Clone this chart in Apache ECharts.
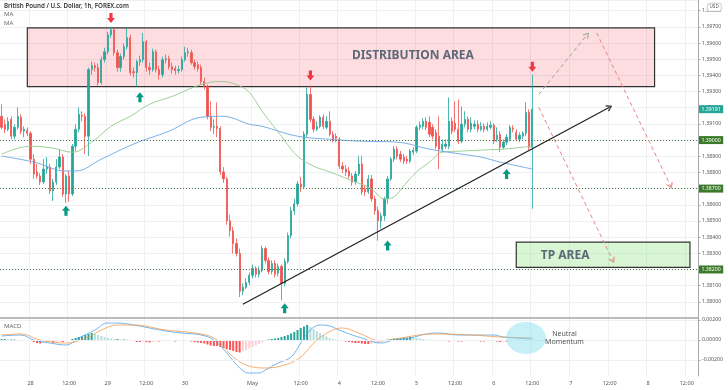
<!DOCTYPE html>
<html><head><meta charset="utf-8">
<script src="https://cdn.jsdelivr.net/npm/echarts@6/dist/echarts.min.js"></script>
<style>html,body{margin:0;padding:0;background:#fff}#c{width:728px;height:390px}</style>
</head><body><div id="c"></div>
<script>
// OHLC: [open, close, low, high]
const candles = [
[1.39147,1.39079,1.39067,1.39221],[1.39098,1.39067,1.39042,1.39128],[1.39067,1.39116,1.39055,1.39141],[1.39128,1.39024,1.39005,1.39147],[1.39024,1.39079,1.39005,1.39098],
[1.39079,1.39147,1.39067,1.39202],[1.39141,1.39055,1.39036,1.39159],[1.39055,1.39067,1.39018,1.39085],[1.39061,1.39042,1.39024,1.39079],[1.39042,1.38882,1.38852,1.39055],
[1.38882,1.38790,1.38760,1.38913],[1.38803,1.38778,1.38760,1.38852],[1.38778,1.38741,1.38723,1.38796],[1.38741,1.38821,1.38729,1.38882],[1.38821,1.38833,1.38790,1.38895],
[1.38833,1.38686,1.38667,1.38852],[1.38686,1.38741,1.38624,1.38760],[1.38741,1.38833,1.38723,1.38882],[1.38833,1.38895,1.38821,1.38944],[1.38895,1.38667,1.38649,1.38913],
[1.38667,1.38778,1.38612,1.38790],[1.38778,1.38667,1.38618,1.38809],[1.38667,1.38962,1.38655,1.38975],[1.38962,1.39067,1.38932,1.39098],[1.39067,1.39159,1.39048,1.39202],
[1.39153,1.39147,1.39116,1.39178],[1.39147,1.39024,1.38913,1.39165],[1.39024,1.39436,1.38901,1.39448],[1.39436,1.39460,1.39405,1.39485],[1.39460,1.39448,1.39423,1.39479],
[1.39448,1.39356,1.39337,1.39473],[1.39356,1.39497,1.39343,1.39516],[1.39497,1.39546,1.39479,1.39571],[1.39546,1.39651,1.39528,1.39669],[1.39651,1.39682,1.39632,1.39700],
[1.39682,1.39540,1.39522,1.39694],[1.39540,1.39448,1.39423,1.39559],[1.39448,1.39516,1.39423,1.39534],[1.39516,1.39577,1.39497,1.39596],[1.39577,1.39632,1.39559,1.39694],
[1.39632,1.39417,1.39399,1.39651],[1.39423,1.39417,1.39386,1.39448],[1.39417,1.39485,1.39331,1.39497],[1.39485,1.39497,1.39460,1.39522],[1.39497,1.39608,1.39479,1.39663],
[1.39608,1.39448,1.39423,1.39620],[1.39448,1.39436,1.39405,1.39479],[1.39436,1.39546,1.39423,1.39565],[1.39546,1.39436,1.39417,1.39559],[1.39436,1.39405,1.39374,1.39460],
[1.39405,1.39497,1.39386,1.39516],[1.39497,1.39503,1.39473,1.39528],[1.39503,1.39454,1.39436,1.39522],[1.39454,1.39436,1.39411,1.39479],[1.39442,1.39430,1.39405,1.39460],
[1.39430,1.39436,1.39411,1.39460],[1.39436,1.39497,1.39423,1.39516],[1.39497,1.39540,1.39485,1.39577],[1.39540,1.39546,1.39516,1.39571],[1.39540,1.39479,1.39466,1.39559],
[1.39479,1.39454,1.39436,1.39497],[1.39466,1.39442,1.39423,1.39485],[1.39448,1.39362,1.39343,1.39466],[1.39362,1.39331,1.39313,1.39386],[1.39331,1.39147,1.39128,1.39343],
[1.39147,1.39079,1.39055,1.39239],[1.39079,1.39085,1.39036,1.39128],[1.39085,1.39073,1.39018,1.39233],[1.39073,1.38803,1.38784,1.39085],[1.38803,1.38760,1.38735,1.38833],
[1.38760,1.38501,1.38477,1.38772],[1.38501,1.38440,1.38403,1.38538],[1.38440,1.38360,1.38299,1.38464],[1.38360,1.38299,1.38280,1.38391],[1.38299,1.38065,1.38029,1.38329],
[1.38065,1.38090,1.38041,1.38114],[1.38090,1.38120,1.38078,1.38145],[1.38120,1.38164,1.38102,1.38182],[1.38164,1.38207,1.38145,1.38231],[1.38207,1.38170,1.38151,1.38219],
[1.38170,1.38194,1.38151,1.38219],[1.38194,1.38329,1.38182,1.38348],[1.38329,1.38256,1.38237,1.38342],[1.38256,1.38188,1.38170,1.38274],[1.38188,1.38237,1.38170,1.38256],
[1.38237,1.38170,1.38151,1.38256],[1.38176,1.38219,1.38157,1.38237],[1.38219,1.38114,1.38010,1.38231],[1.38114,1.38250,1.38096,1.38268],[1.38250,1.38409,1.38237,1.38428],
[1.38409,1.38563,1.38391,1.38588],[1.38563,1.38606,1.38538,1.38637],[1.38606,1.38729,1.38588,1.38747],[1.38729,1.38710,1.38680,1.38772],[1.38710,1.39036,1.38698,1.39055],
[1.39036,1.39282,1.39018,1.39325],[1.39282,1.39128,1.39110,1.39337],[1.39128,1.39067,1.39048,1.39147],[1.39067,1.39085,1.39055,1.39116],[1.39085,1.39141,1.39073,1.39153],
[1.39141,1.39085,1.39067,1.39159],[1.39079,1.39116,1.39067,1.39147],[1.39116,1.39036,1.39024,1.39178],[1.39036,1.39005,1.38987,1.39055],[1.39024,1.39012,1.38987,1.39042],
[1.39005,1.38839,1.38821,1.39018],[1.38839,1.38821,1.38796,1.38864],[1.38821,1.38803,1.38778,1.38846],[1.38809,1.38778,1.38760,1.38833],[1.38778,1.38741,1.38717,1.38796],
[1.38741,1.38790,1.38723,1.38809],[1.38790,1.38852,1.38778,1.38901],[1.38852,1.38680,1.38661,1.38901],[1.38698,1.38680,1.38655,1.38723],[1.38680,1.38760,1.38667,1.38784],
[1.38760,1.38637,1.38618,1.38784],[1.38637,1.38563,1.38538,1.38655],[1.38563,1.38501,1.38378,1.38588],[1.38501,1.38532,1.38452,1.38551],[1.38532,1.38637,1.38501,1.38649],
[1.38637,1.38760,1.38606,1.38778],[1.38760,1.38882,1.38747,1.38895],[1.38882,1.38944,1.38864,1.38962],[1.38944,1.38901,1.38882,1.38962],[1.38913,1.38882,1.38864,1.38932],
[1.38895,1.38870,1.38852,1.38913],[1.38882,1.38870,1.38852,1.38901],[1.38870,1.38932,1.38858,1.38944],[1.38925,1.38938,1.38907,1.38956],[1.38932,1.39079,1.38919,1.39092],
[1.39079,1.39092,1.39061,1.39116],[1.39085,1.39116,1.39067,1.39135],[1.39116,1.39079,1.39061,1.39141],[1.39110,1.39036,1.39018,1.39147],[1.39079,1.39024,1.39005,1.39098],
[1.39048,1.38962,1.38944,1.39067],[1.39024,1.38944,1.38821,1.39147],[1.38944,1.38975,1.38925,1.39005],[1.38962,1.38975,1.38944,1.39005],[1.38962,1.39116,1.38944,1.39264],
[1.39116,1.39055,1.39036,1.39141],[1.39104,1.39067,1.39048,1.39239],[1.39067,1.38993,1.38975,1.39251],[1.38993,1.39098,1.38981,1.39208],[1.39098,1.39128,1.39079,1.39178],
[1.39128,1.39067,1.39048,1.39147],[1.39067,1.39104,1.39048,1.39141],[1.39085,1.39098,1.39067,1.39122],[1.39098,1.39067,1.39048,1.39122],[1.39067,1.39085,1.39055,1.39110],
[1.39085,1.39067,1.39048,1.39104],[1.39067,1.39085,1.39055,1.39110],[1.39079,1.39092,1.39067,1.39116],[1.39092,1.38993,1.38975,1.39104],[1.39005,1.39030,1.38987,1.39079],
[1.39036,1.38956,1.38925,1.39055],[1.38956,1.38987,1.38944,1.39005],[1.38987,1.39018,1.38969,1.39036],[1.39005,1.39079,1.38993,1.39092],[1.39073,1.39067,1.39048,1.39092],
[1.39048,1.39005,1.38993,1.39067],[1.39005,1.39030,1.38987,1.39048],[1.39024,1.39042,1.39005,1.39055],[1.39042,1.39171,1.39024,1.39233],[1.39171,1.38956,1.38938,1.39190],
[1.38956,1.39191,1.38575,1.39405]
];
// moving averages read at sample bars: [barIndex, value]
const maGreen = [[0,1.38913],[9,1.38962],[16,1.38950],[22,1.38925],[28,1.38987],[34,1.39085],[40,1.39147],[46,1.39221],[53,1.39270],[62,1.39343],[68,1.39362],[72,1.39350],[76,1.39313],[78,1.39270],[81,1.39178],[87,1.39024],[92,1.38901],[97,1.38839],[102,1.38803],[110,1.38741],[115,1.38698],[119,1.38637],[122,1.38649],[125,1.38717],[129,1.38803],[133,1.38864],[137,1.38925],[143,1.38932],[149,1.38938],[156,1.38944],[162,1.38956],[165,1.38962]];
const maBlue = [[0,1.38901],[10,1.38864],[20,1.38809],[23,1.38809],[31,1.38882],[41,1.38975],[52,1.39055],[62,1.39141],[68,1.39147],[71,1.39141],[77,1.39098],[81,1.39085],[92,1.39024],[102,1.39005],[112,1.38993],[123,1.38987],[133,1.38944],[143,1.38913],[149,1.38895],[155,1.38864],[165,1.38821]];
const macdLine = [[0,0.0004],[6,0.0005],[10,0.0],[15,-0.0003],[20,-0.0005],[24,0.0002],[29,0.001],[33,0.0017],[36,0.0017],[41,0.0015],[46,0.0012],[51,0.0009],[56,0.0007],[62,0.0005],[66,0.0],[70,-0.0013],[74,-0.0028],[77,-0.0033],[80,-0.0033],[82,-0.003],[86,-0.0023],[90,-0.0017],[93,-0.0003],[96,0.001],[99,0.0015],[102,0.0014],[105,0.001],[109,0.0005],[111,0.0003],[118,-0.0003],[122,0.0],[127,0.0002],[132,0.0006],[136,0.0007],[142,0.0005],[153,0.0005],[156,0.0003],[165,0.0001]];
const signalLine = [[0,0.0005],[6,0.0006],[12,0.0],[20,-0.0003],[27,0.0003],[31,0.001],[36,0.0015],[41,0.0015],[51,0.001],[62,0.0006],[67,0.0],[72,-0.0017],[78,-0.0027],[82,-0.0028],[88,-0.0025],[93,-0.0017],[98,0.0],[103,0.001],[106,0.0012],[111,0.0007],[118,-0.0001],[124,0.0002],[134,0.0006],[146,0.0005],[155,0.0003],[165,0.0002]];
const histogram = [
0.0001,0.0001,0.00005,0.00005,0.00005,0.00003,0.00002,0.00001,-0.00002,
-0.0001,-0.0002,-0.0003,-0.00035,-0.0003,-0.00025,
-0.0002,-0.00025,-0.0002,-0.00015,-0.0002,-0.0001,-0.00005,
0.0001,0.0002,0.0003,0.00035,0.0005,0.0006,0.0007,
0.0006,0.0005,0.0004,0.0003,0.0002,
0.00015,0.0001,0.0001,0.00005,0.00005,0.00003,0.00002,
-0.0001,-0.0002,-0.0002,-0.00015,-0.0002,-0.00025,-0.0002,-0.00015,-0.00015,-0.0001,-0.0001,
-0.0001,-0.0001,-0.00015,-0.0001,-0.0001,-0.00005,-0.0001,-0.00015,-0.0002,-0.00025,
-0.0003,-0.00035,-0.00045,-0.00055,-0.0006,-0.0006,
-0.0007,-0.0008,-0.0009,-0.001,-0.0011,-0.0012,-0.00125,
-0.0011,-0.001,-0.00085,-0.0007,-0.00055,-0.0004,-0.00025,
-0.0001,0.00005,0.0001,0.00015,0.0002,0.0003,
0.0004,0.0005,0.00065,0.0008,0.001,0.0012,0.00135,0.0015,
0.0013,0.0011,0.0009,0.0007,0.0005,0.00035,0.0002,0.0001,
0.00005,-0.00005,
-0.0001,-0.00015,-0.0002,-0.00025,-0.0003,-0.0003,
-0.00035,-0.0004,-0.0004,-0.00035,-0.0003,-0.00025,-0.00015,
-0.0001,0.00005,0.0001,
0.00015,0.0002,0.0002,0.00025,0.00025,0.0003,0.00025,0.0002,0.00015,0.0001,0.00005,
0.00003,0.00001,-0.00003,-0.00005,
-0.0001,-0.0001,-0.00015,-0.0001,-0.0001,-0.00015,-0.00015,-0.0001,-0.0001,-0.0001,-0.00005,-0.0001,-0.00015,-0.00015,-0.0001,-0.0001,-0.0001,-0.00015,-0.0002,-0.00015,-0.00015,-0.0001,-0.0001,-0.00005,-0.00005,-0.00005,-0.00003,
-0.00002,-0.00001
];
const levels = [1.39000, 1.38700, 1.38200];
const lastPrice = 1.39191;
const macdTicks = [-0.002, 0, 0.002];
const title = 'British Pound / U.S. Dollar, 1h, FOREX.com';
// annotation arrows [barIndex, price, direction]
const arrows = [[34,1.39755,'down'],[96,1.39399,'down'],[165,1.39454,'down'],[43,1.39264,'up'],[20,1.38563,'up'],[88,1.37961,'up'],[120,1.38348,'up'],[157,1.38790,'up']];
// zones [fromBar, topPrice, toBar, bottomPrice, text]
const zones = [[8,1.39694,203,1.39331,'DISTRIBUTION AREA'],[160,1.38369,214,1.38213,'TP AREA']];
// drawn lines [fromBar, fromPrice, toBar, toPrice]
const trendLine = [75,1.37985,189,1.39203];
const greenPath = [167,1.39282,182,1.39651];
const redPaths = [[185,1.39663,208,1.38717],[167,1.39202,190,1.38256]];

// hourly time categories (weekend gap after Apr 30 20:00), plus future hours
const N = 217;
const cats = [];
const t0 = Date.UTC(2021,3,27,15), t1 = Date.UTC(2021,4,2,21);
for (let i = 0; i < N; i++) {
  const t = i < 78 ? t0 + i*3600e3 : t1 + (i-78)*3600e3;
  cats.push(new Date(t).toISOString().slice(0,16));
}
const monthTick = 78, hiddenTicks = [69, 81];
function showTick(i){
  if (i === monthTick) return true;
  if (hiddenTicks.indexOf(i) >= 0) return false;
  const h = parseInt(cats[i].slice(11,13),10);
  return h === 0 || h === 12;
}
function tickText(v, i){
  if (i === monthTick) return 'May';
  const h = parseInt(v.slice(11,13),10);
  return h === 12 ? '12:00' : String(parseInt(v.slice(8,10),10));
}
function histColor(i){
  const v = histogram[i], p = i > 0 ? histogram[i-1] : v;
  if (v >= 0) return v >= p ? '#26a69a' : '#b2dfdb';
  return v <= p ? '#ff5252' : '#ffcdd2';
}
const chev = 'path://M0,10 L5,0 L10,10 L8.4,10.8 L5,3.4 L1.6,10.8 Z';
const upArrow = 'path://M5,0 L10,6 L7,6 L7,12 L3,12 L3,6 L0,6 Z';
const downArrow = 'path://M3,0 L7,0 L7,6 L10,6 L5,12 L0,6 L3,6 Z';
const FONT = 'Noto Sans';

const markLines = [];
levels.forEach(v => markLines.push({
  yAxis: v, lineStyle:{color:'#4f7a44', type:[1,2], width:1},
  label:{show:true, position:'end', distance:1, formatter:()=>v.toFixed(5), backgroundColor:'#3c7a2b', color:'#fff', fontSize:5.2, padding:[1.5,2.5], fontFamily:FONT}
}));
markLines.push({
  yAxis: lastPrice, lineStyle:{color:'rgba(0,0,0,0)', width:0.1, type:'solid'},
  label:{show:true, position:'end', distance:1, formatter:()=>lastPrice.toFixed(5), backgroundColor:'#26a69a', color:'#fff', fontSize:5.2, padding:[1.5,2.5], fontFamily:FONT}
});
markLines.push([
  {coord:[trendLine[0],trendLine[1]], symbol:'none', lineStyle:{color:'#1f1f1f', width:1.2, type:'solid'}, label:{show:false}},
  {coord:[trendLine[2],trendLine[3]], symbol:chev, symbolSize:[7,6]}
]);
markLines.push([
  {coord:[greenPath[0],greenPath[1]], symbol:'none', lineStyle:{color:'#93ad93', width:1, type:[4,3]}, label:{show:false}},
  {coord:[greenPath[2],greenPath[3]], symbol:chev, symbolSize:[7,6]}
]);
redPaths.forEach(r => markLines.push([
  {coord:[r[0],r[1]], symbol:'none', lineStyle:{color:'#e88585', width:1, type:[4,3]}, label:{show:false}},
  {coord:[r[2],r[3]], symbol:chev, symbolSize:[7,6]}
]));

const zoneStyles = [
  {fill:'rgba(242,54,69,0.17)', offset:[72,-2]},
  {fill:'rgba(100,220,80,0.25)', offset:[-38,1]}
];
const markAreas = zones.map((z, k) => [
  {coord:[z[0],z[1]], itemStyle:{color:zoneStyles[k].fill, borderColor:'#333', borderWidth:1.2},
   label:{show:true, position:'inside', offset:zoneStyles[k].offset, formatter:z[4], fontSize:12, fontWeight:'bold', color:'#5d6878', fontFamily:FONT}},
  {coord:[z[2],z[3]]}
]);

const option = {
  animation:false,
  backgroundColor:'#fff',
  textStyle:{fontFamily:FONT},
  grid:[
    {left:-0.6, right:30, top:0, height:318},
    {left:-0.6, right:30, top:318, height:58}
  ],
  xAxis:[
    {type:'category', gridIndex:0, data:cats, boundaryGap:true,
     axisLine:{show:true, lineStyle:{color:'#a8a8a8', width:1.5}}, axisTick:{show:false}, axisLabel:{show:false},
     splitLine:{show:true, interval:(i)=>showTick(i), lineStyle:{color:'#eef0f4', width:1}}},
    {type:'category', gridIndex:1, data:cats, boundaryGap:true,
     axisLine:{show:true, lineStyle:{color:'#b0b0b0', width:1}}, axisTick:{show:false},
     axisLabel:{show:true, interval:(i)=>showTick(i), formatter:tickText, fontSize:5.5, color:'#555', margin:4},
     splitLine:{show:true, interval:(i)=>showTick(i), lineStyle:{color:'#eef0f4', width:1}}}
  ],
  yAxis:[
    {type:'value', gridIndex:0, position:'right', min:1.379, max:1.39866, interval:0.001,
     axisLine:{show:true, lineStyle:{color:'#a8a8a8'}}, axisTick:{show:true, length:2.5, lineStyle:{color:'#a8a8a8'}},
     axisLabel:{fontSize:5.2, color:'#555', margin:4, showMinLabel:false, showMaxLabel:false, formatter:v=>v.toFixed(5)},
     splitLine:{show:true, lineStyle:{color:'#eef0f4'}}},
    {type:'value', gridIndex:1, position:'right', min:-0.0036, max:0.0022,
     axisLine:{show:true, lineStyle:{color:'#a8a8a8'}},
     axisTick:{show:true, length:2.5, customValues:macdTicks, lineStyle:{color:'#a8a8a8'}},
     axisLabel:{fontSize:5.2, color:'#555', margin:4, customValues:macdTicks, formatter:v=>v.toFixed(5)},
     splitLine:{show:false}}
  ],
  graphic:[
    {type:'text', left:4, top:3, z:100, style:{text:title, fontSize:6.2, fontWeight:600, fill:'#333', fontFamily:FONT}},
    {type:'text', left:4, top:11, z:100, style:{text:'MA', fontSize:6, fill:'#666', fontFamily:FONT}},
    {type:'text', left:4, top:20, z:100, style:{text:'MA', fontSize:6, fill:'#666', fontFamily:FONT}},
    {type:'text', left:4, top:323, z:100, style:{text:'MACD', fontSize:6, fill:'#666', fontFamily:FONT}},
    {type:'rect', left:707, top:3, z:100, shape:{width:14, height:8, r:2}, style:{fill:'#fff', stroke:'#aaa', lineWidth:0.6}},
    {type:'text', left:709.5, top:4.6, z:101, style:{text:'USD', fontSize:4.6, fill:'#555', fontFamily:FONT}}
  ],
  series:[
    {type:'candlestick', xAxisIndex:0, yAxisIndex:0, data:candles, barWidth:'55%',
     itemStyle:{color:'#26a69a', color0:'#ef5350', borderColor:'#26a69a', borderColor0:'#ef5350', borderWidth:0.8},
     markArea:{silent:true, data:markAreas},
     markLine:{silent:true, symbol:'none', precision:5, animation:false, data:markLines},
     markPoint:{silent:true, animation:false, data:arrows.map(a => ({
        coord:[a[0], a[1]], symbol: a[2]==='down' ? downArrow : upArrow, symbolSize:[8,10],
        itemStyle:{color: a[2]==='down' ? '#f23645' : '#089981'}, label:{show:false}}))}
    },
    {type:'line', xAxisIndex:0, yAxisIndex:0, data:maGreen, smooth:0.4, symbol:'none', lineStyle:{color:'#93c98b', width:0.9}, z:3},
    {type:'line', xAxisIndex:0, yAxisIndex:0, data:maBlue, smooth:0.4, symbol:'none', lineStyle:{color:'#6aa6e0', width:0.9}, z:3},
    {type:'bar', xAxisIndex:1, yAxisIndex:1, barWidth:'62%',
     data:histogram.map((v,i)=>({value:v, itemStyle:{color:histColor(i)}})),
     markLine:{silent:true, symbol:'none', precision:5, label:{show:false}, lineStyle:{color:'#eef0f4', type:'solid', width:1}, data:macdTicks.map(v=>({yAxis:v}))},
     markPoint:{silent:true, animation:false, data:[
       {coord:[163, 0.0002], symbol:'circle', symbolSize:[40,32], itemStyle:{color:'rgba(128,222,234,0.45)'}, label:{show:false}},
       {coord:[175, 0.0002], symbol:'circle', symbolSize:1, itemStyle:{color:'rgba(0,0,0,0)'},
        label:{show:true, position:'inside', formatter:'Neutral\nMomentum', fontSize:7, lineHeight:7.5, color:'#555', fontFamily:FONT}}
     ]}
    },
    {type:'line', xAxisIndex:1, yAxisIndex:1, data:macdLine, smooth:0.4, symbol:'none', lineStyle:{color:'#4da3ee', width:0.8}},
    {type:'line', xAxisIndex:1, yAxisIndex:1, data:signalLine, smooth:0.4, symbol:'none', lineStyle:{color:'#f59a4c', width:0.8}}
  ]
};
const chart = echarts.init(document.getElementById('c'));
chart.setOption(option);
</script>
</body></html>
